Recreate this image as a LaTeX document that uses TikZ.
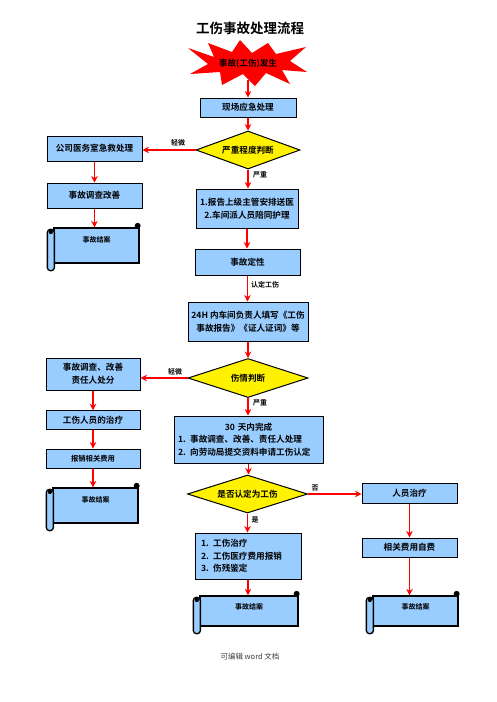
\documentclass[tikz,border=0pt]{standalone}
\usepackage{fontspec}
\setmainfont{Noto Sans CJK SC}[BoldFont={Noto Sans CJK SC Bold}]
\usetikzlibrary{arrows.meta,shapes.geometric}
\definecolor{boxblue}{HTML}{99CCFF}
\definecolor{arrred}{HTML}{FF0000}
\definecolor{footgray}{HTML}{404040}
\newcommand\scrollbox[7]{%
  \node[scrollbody, minimum width=#4pt, minimum height=#5pt] (#1) at (#2,#3) {};
  \draw[scrolledge, fill=boxblue, rounded corners=3pt] ([shift={(-6,2)}]#1.north west) rectangle ([shift={(1,7)}]#1.south west);
  \fill ([shift={(-2.5,4.5)}]#1.north west) circle (2.2pt);
  \fill ([shift={(-2,-1.5)}]#1.north east) circle (3pt);
  \node[scrolltext] (#1t) at ([yshift=#6pt]#1.center) {#7};
}
\begin{document}
\begin{tikzpicture}[x=1pt,y=-1pt,
  box/.style={draw=black, line width=1pt, fill=boxblue, inner sep=2pt, font=\bfseries\fontsize{8.6}{12.7}\selectfont, align=center},
  dia/.style={diamond, draw=black, line width=1pt, fill=yellow, inner sep=0pt, aspect=2.7, font=\bfseries\fontsize{8.6}{11}\selectfont},
  arr/.style={draw=arrred, line width=1.2pt, -{Stealth[length=6.5pt,width=6.5pt]}},
  lab/.style={font=\bfseries\fontsize{7}{8}\selectfont, inner sep=0pt},
  scrollbody/.style={draw=black, line width=1.3pt, fill=boxblue, inner sep=0pt},
  scrolledge/.style={draw=black, line width=1.3pt},
  scrolltext/.style={font=\bfseries\fontsize{7}{8}\selectfont, inner sep=0pt},
]
\useasboundingbox (0,0) rectangle (496,702);
\node[font=\bfseries\fontsize{13.5}{15}\selectfont] (title) at (250,28) {工伤事故处理流程};
\fill[red] (188,48) -- (214,57) -- (208,43) -- (232,52) -- (240,40) -- (252,53) -- (268,43) -- (276,54) -- (306,47) -- (290,61) -- (307,72) -- (282,70) -- (290,84) -- (266,73) -- (255,86) -- (243,74) -- (222,85) -- (220,72) -- (190,74) -- (208,64) -- cycle;
\node[font=\bfseries\fontsize{8.6}{10}\selectfont, inner sep=0pt] (start) at (248,64) {事故(工伤)发生};
\coordinate (startb) at (248,80);

\node[box, minimum width=96pt, minimum height=19pt] (b1) at (248,107.5) {现场应急处理};
\node[dia, minimum width=104pt, minimum height=38pt] (d1) at (248,150) {严重程度判断};
\node[box, minimum width=95pt, minimum height=25pt] (l1) at (94.5,148.5) {公司医务室急救处理};
\node[box, minimum width=95pt, minimum height=25pt] (l2) at (94.5,195.5) {事故调查改善};
\scrollbox{s1}{96.5}{245.5}{85}{35}{6}{事故结案}
\node[box, minimum width=102pt, minimum height=39pt] (b2) at (247,208.5) {1.报告上级主管安排送医\\2.车间派人员陪同护理};
\node[box, minimum width=105pt, minimum height=26pt] (b3) at (247.5,262) {事故定性};
\node[box, minimum width=120pt, minimum height=39pt] (b4) at (248,321.5) {24H 内车间负责人填写《工伤\\事故报告》《证人证词》等};
\node[dia, minimum width=120pt, minimum height=39pt] (d2) at (248,378) {伤情判断};
\node[box, minimum width=94pt, minimum height=32pt] (l3) at (93,374) {事故调查、改善\\责任人处分};
\node[box, minimum width=94pt, minimum height=18.5pt] (l4) at (93,420) {工伤人员的治疗};
\node[box, minimum width=94pt, minimum height=19pt, font=\bfseries\fontsize{7.3}{9}\selectfont] (l5) at (93,458.5) {报销相关费用};
\scrollbox{s2}{95.5}{505.5}{85}{35}{6}{事故结案}
\node[box, minimum width=149pt, minimum height=47pt, text width=141pt, inner xsep=4pt, align=left] (b5) at (248.5,439.5) {\makebox[\linewidth]{30 天内完成}\\1. 事故调查、改善、责任人处理\\2. 向劳动局提交资料申请工伤认定};
\node[dia, minimum width=120pt, minimum height=38pt] (d3) at (247.5,494) {是否认定为工伤};
\node[box, minimum width=95pt, minimum height=20pt] (r1) at (409.5,493) {人员治疗};
\node[box, minimum width=95pt, minimum height=19pt] (r2) at (409.5,547.5) {相关费用自费};
\node[box, minimum width=106pt, minimum height=46pt, text width=94pt, inner xsep=6pt, align=left] (b6) at (248,556) {1. 工伤治疗\\2. 工伤医疗费用报销\\3. 伤残鉴定};
\scrollbox{s3}{249}{611}{98}{30}{4}{事故结案}
\scrollbox{s4}{415.5}{611}{85}{30}{4}{事故结案}

\node[font=\fontsize{7.5}{9}\selectfont, text=footgray] (foot) at (250,657) {可编辑 word 文档};

\draw[arr] (startb) -- (b1);
\draw[arr] (b1) -- (d1);
\draw[arr] (d1.west) -- (d1.west -| l1.east);
\draw[arr] (l1) -- (l2);
\draw[arr] (l2.south) -- (l2.south |- s1.north);
\draw[arr] (d1.south) -- (d1.south |- b2.north);
\draw[arr] (b2.south) -- (b2.south |- b3.north);
\draw[arr] (b3.south) -- (b3.south |- b4.north);
\draw[arr] (b4) -- (d2);
\draw[arr] (d2.west) -- (d2.west -| l3.east);
\draw[arr] (l3) -- (l4);
\draw[arr] (l4) -- (l5);
\draw[arr] (l5.south) -- (l5.south |- s2.north);
\draw[arr] (d2.south) -- (d2.south |- b5.north);
\draw[arr] (b5.south) -- (b5.south |- d3.north);
\draw[arr] (d3.east) -- (d3.east -| r1.west);
\draw[arr] (r1) -- (r2);
\draw[arr] (r2.south) -- (r2.south |- s4.north);
\draw[arr] (d3.south) -- (d3.south |- b6.north);
\draw[arr] (b6.south) -- (b6.south |- s3.north);

\node[lab] (lq1) at (178,143) {轻微};
\node[lab] (lz1) at (260,175) {严重};
\node[lab] (lrd) at (265,285) {认定工伤};
\node[lab] (lq2) at (175,372) {轻微};
\node[lab] (lz2) at (260,403) {严重};
\node[lab] (lno) at (315,488) {否};
\node[lab] (lyes) at (255,520) {是};
\end{tikzpicture}
\end{document}
